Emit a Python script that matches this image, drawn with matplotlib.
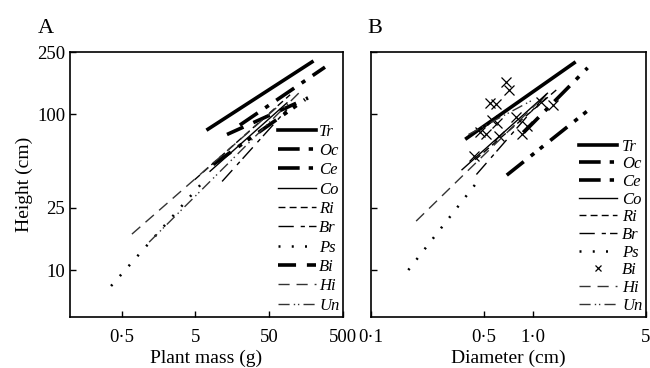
import numpy as np
import matplotlib
matplotlib.use('Agg')
import matplotlib.pyplot as plt

plt.rcParams['font.family'] = ['Liberation Serif', 'DejaVu Serif']

species = ['Tr', 'Oc', 'Ce', 'Co', 'Ri', 'Br', 'Ps', 'Bi', 'Hi', 'Un']

# panel A: fitted lines, plant mass (g) vs height (cm), start/end points
mass_start = [7.4, 20, 8.7, 7.9, 4.9, 11.5, 0.36, 13.4, 0.69, 1.18]
mass_end = [190, 285, 153, 87, 96, 87, 7.2, 168, 70, 131]
hA_start = [80, 85, 47.5, 43, 38, 37, 7.9, 74, 17, 15.1]
hA_end = [216, 200, 124, 118, 133, 107, 39.3, 127, 115, 139]

# panel B: fitted lines, diameter (cm) vs height (cm); Bi shown as points
diam_start = [0.39, 0.875, 0.69, 0.365, 0.44, 0.448, 0.17, None, 0.19, 0.40]
diam_end = [1.80, 2.18, 2.33, 1.23, 1.42, 1.25, 0.474, None, 1.04, 1.01]
hB_start = [70, 76, 40.6, 44, 51, 41, 10.0, None, 20.6, 74]
hB_end = [213, 198, 111, 136, 145, 139, 39, None, 115, 124]

bi_diam = [0.687, 0.717, 0.547, 0.588, 0.562, 0.604, 0.474, 0.517, 0.622,
           0.782, 0.914, 0.863, 1.12, 1.33, 0.43]
bi_height = [161, 143, 118, 116, 92, 88, 77, 74, 72, 96, 84, 74, 120, 115, 53.5]

styles = {
    'Tr': dict(color='black', lw=2.6, ls='-'),
    'Oc': dict(color='black', lw=2.6, ls=(0, (6, 2.5, 1.2, 2.5))),
    'Ce': dict(color='black', lw=2.6, ls=(0, (6, 2.5, 1.2, 2, 1.2, 2.5))),
    'Co': dict(color='black', lw=1.0, ls='-'),
    'Ri': dict(color='black', lw=1.0, ls=(0, (5, 3))),
    'Br': dict(color='black', lw=1.0, ls=(0, (11, 5, 3, 3))),
    'Ps': dict(color='black', lw=1.8, ls=(0, (0.8, 4.5))),
    'Bi': dict(color='black', lw=2.6, ls=(0, (5, 3))),
    'Hi': dict(color='#333333', lw=1.0, ls=(0, (8, 5))),
    'Un': dict(color='#333333', lw=1.0, ls=(0, (8, 3, 1, 2, 1, 3))),
}

fig = plt.figure(figsize=(6.5, 3.68), dpi=100)
ax1 = fig.add_axes([0.1077, 0.1386, 0.42, 0.72])
ax2 = fig.add_axes([0.5708, 0.1386, 0.423, 0.72])

for i, sp in enumerate(species):
    ax1.plot([mass_start[i], mass_end[i]], [hA_start[i], hA_end[i]],
             label=sp, **styles[sp])
    if sp == 'Bi':
        ax2.plot(bi_diam, bi_height, 'x', color='black', ms=7.5, mew=0.9,
                 label=sp)
    else:
        ax2.plot([diam_start[i], diam_end[i]], [hB_start[i], hB_end[i]],
                 label=sp, **styles[sp])

for ax in (ax1, ax2):
    ax.set_xscale('log')
    ax.set_yscale('log')
    ax.set_ylim(5, 250)
    ax.set_yticks([10, 25, 100, 250])
    ax.minorticks_off()
    ax.tick_params(direction='in', length=4, width=1, labelsize=13.5,
                   top=False, right=False)
    for s in ax.spines.values():
        s.set_linewidth(1.2)

ax1.set_xlim(0.1, 500)
ax1.set_xticks([0.5, 5, 50, 500])
ax1.set_xticklabels(['0·5', '5', '50', '500'])
ax1.set_yticklabels(['10', '25', '100', '250'])
ax1.set_xlabel('Plant mass (g)', fontsize=14, labelpad=2)
ax1.set_ylabel('Height (cm)', fontsize=14, labelpad=3)
ax1.tick_params(axis='x', pad=9)

ax2.set_xlim(0.1, 5)
ax2.set_xticks([0.1, 0.5, 1, 5])
ax2.set_xticklabels(['0·1', '0·5', '1·0', '5'])
ax2.set_yticklabels([])
ax2.set_xlabel('Diameter (cm)', fontsize=14, labelpad=2)
ax2.tick_params(axis='x', pad=9)

leg_font = dict(style='italic', size=12)
ax1.legend(loc='lower right', frameon=False, prop=leg_font, handlelength=2.3,
           handletextpad=0.2, labelspacing=0.2, borderaxespad=0.05,
           borderpad=0.15)
ax2.legend(loc='lower right', frameon=False, prop=leg_font, handlelength=2.3,
           handletextpad=0.3, labelspacing=0.1, borderaxespad=0.05,
           borderpad=0.15, markerscale=0.6)

fig.text(0.058, 0.91, 'A', fontsize=16)
fig.text(0.565, 0.91, 'B', fontsize=16)

fig.savefig('out.png', dpi=100)
